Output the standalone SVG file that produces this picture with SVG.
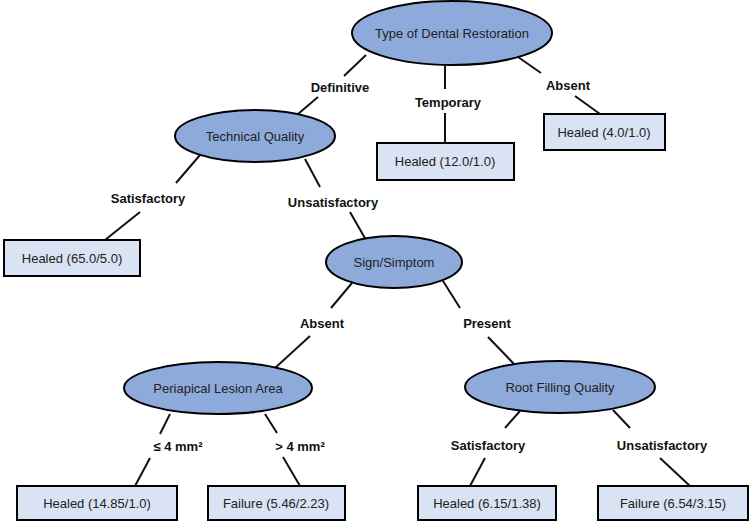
<svg xmlns="http://www.w3.org/2000/svg" width="750" height="523" viewBox="0 0 750 523">
<style>
.e{fill:#8eaadb;stroke:#000;stroke-width:2}
.b{fill:#dae3f3;stroke:#000;stroke-width:2}
.t{font-family:"Liberation Sans",Arial,sans-serif;font-size:13px;text-anchor:middle;fill:#222}
.l{font-family:"Liberation Sans",Arial,sans-serif;font-size:13px;font-weight:bold;text-anchor:middle;fill:#111}
#c line{stroke:#111;stroke-width:2}
</style>
<rect width="750" height="523" fill="#fff"/>
<g id="c">
<line x1="366" y1="55" x2="344" y2="76"/><line x1="318" y1="97" x2="298" y2="114"/>
<line x1="445" y1="66" x2="445" y2="89"/><line x1="445" y1="113" x2="445" y2="143"/>
<line x1="518" y1="57" x2="541" y2="73"/><line x1="575" y1="96" x2="600" y2="114"/>
<line x1="200" y1="155" x2="176" y2="183"/><line x1="140" y1="212" x2="105" y2="240"/>
<line x1="305" y1="159" x2="320" y2="187"/><line x1="350" y1="212" x2="366" y2="240"/>
<line x1="352" y1="283" x2="331" y2="308"/><line x1="310" y1="336" x2="275" y2="368"/>
<line x1="443" y1="281" x2="460" y2="308"/><line x1="488" y1="337" x2="515" y2="365"/>
<line x1="170" y1="414" x2="160" y2="434"/><line x1="150" y1="458" x2="135" y2="486"/>
<line x1="265" y1="414" x2="277" y2="433"/><line x1="283" y1="457" x2="300" y2="486"/>
<line x1="520" y1="411" x2="505" y2="428"/><line x1="485" y1="458" x2="470" y2="486"/>
<line x1="613" y1="410" x2="630" y2="428"/><line x1="660" y1="458" x2="690" y2="486"/>
</g>
<g id="labels">
<text class="l" x="340" y="92">Definitive</text>
<text class="l" x="448" y="107">Temporary</text>
<text class="l" x="568" y="90">Absent</text>
<text class="l" x="148" y="203">Satisfactory</text>
<text class="l" x="333" y="207">Unsatisfactory</text>
<text class="l" x="322" y="328">Absent</text>
<text class="l" x="487" y="328">Present</text>
<text class="l" x="178" y="451">≤ 4 mm²</text>
<text class="l" x="300" y="451">&gt; 4 mm²</text>
<text class="l" x="488" y="450">Satisfactory</text>
<text class="l" x="662" y="450">Unsatisfactory</text>
</g>
<g id="root"><ellipse class="e" cx="452" cy="33" rx="100" ry="32"/><text class="t" x="452" y="38">Type of Dental Restoration</text></g>
<g id="tq"><ellipse class="e" cx="255" cy="136" rx="80" ry="26"/><text class="t" x="255" y="141">Technical Quality</text></g>
<g id="ss"><ellipse class="e" cx="394" cy="262" rx="68" ry="26"/><text class="t" x="394" y="267">Sign/Simptom</text></g>
<g id="pla"><ellipse class="e" cx="218" cy="388" rx="94" ry="26"/><text class="t" x="218" y="393">Periapical Lesion Area</text></g>
<g id="rfq"><ellipse class="e" cx="560" cy="387" rx="95" ry="26"/><text class="t" x="560" y="392">Root Filling Quality</text></g>
<g id="h4"><rect class="b" x="544" y="114" width="121" height="36"/><text class="t" x="604" y="137">Healed (4.0/1.0)</text></g>
<g id="h12"><rect class="b" x="377" y="143" width="137" height="37"/><text class="t" x="445" y="166">Healed (12.0/1.0)</text></g>
<g id="h65"><rect class="b" x="4" y="240" width="136" height="36"/><text class="t" x="72" y="263">Healed (65.0/5.0)</text></g>
<g id="h14"><rect class="b" x="17" y="486" width="160" height="34"/><text class="t" x="97" y="508">Healed (14.85/1.0)</text></g>
<g id="f5"><rect class="b" x="208" y="486" width="137" height="34"/><text class="t" x="276" y="508">Failure (5.46/2.23)</text></g>
<g id="h6"><rect class="b" x="418" y="486" width="138" height="34"/><text class="t" x="487" y="508">Healed (6.15/1.38)</text></g>
<g id="f6"><rect class="b" x="598" y="486" width="150" height="34"/><text class="t" x="673" y="508">Failure (6.54/3.15)</text></g>
</svg>
